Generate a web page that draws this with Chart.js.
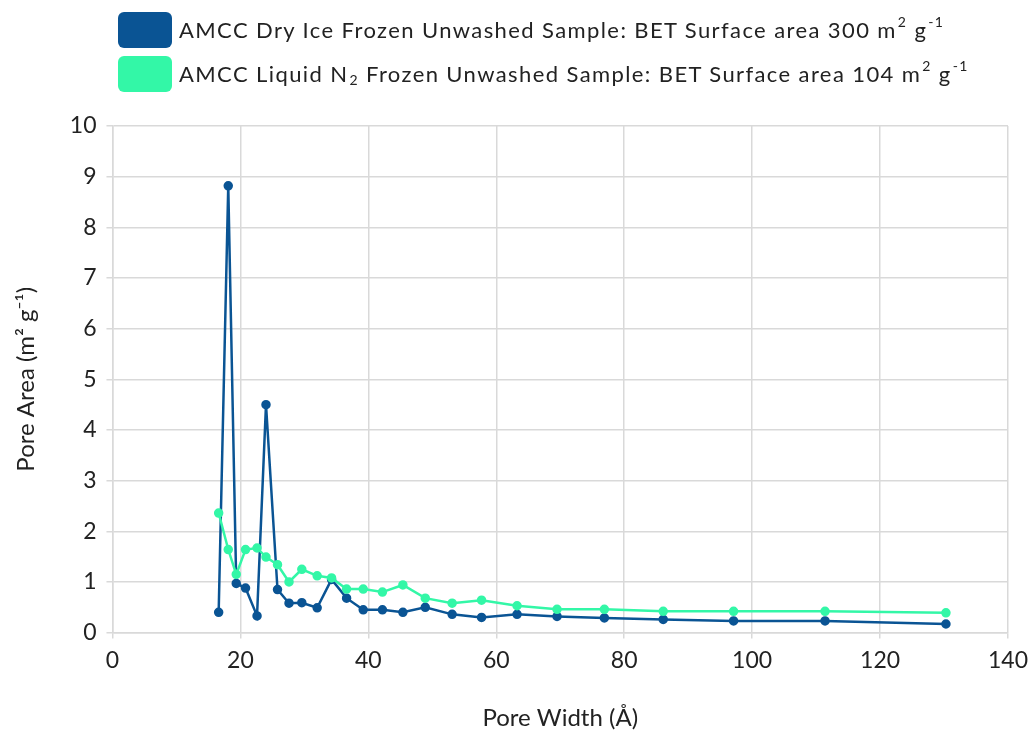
<!DOCTYPE html>
<html>
<head>
<meta charset="utf-8">
<script src="https://cdn.jsdelivr.net/npm/chart.js@4/dist/chart.umd.min.js"></script>
<style>
  html, body { margin: 0; padding: 0; background: #fff; }
  #wrap { position: relative; width: 1036px; height: 733px; font-family: Lato, "Noto Sans", sans-serif; color: #222; }
  #legend { position: absolute; left: 118px; top: 12px; }
  .item { display: flex; align-items: center; height: 36px; margin-bottom: 8px; font-size: 22px; letter-spacing: 1.4px; line-height: 1; }
  .box { width: 54px; height: 36px; border-radius: 6px; margin-right: 7px; }
  sup { font-size: 14px; position: relative; top: -8px; margin-left: 1px; }
  sub { font-size: 14px; position: relative; top: 6px; margin-left: 1px; }
  canvas { position: absolute; left: 0; top: 0; }
</style>
</head>
<body>
<div id="wrap">
  <canvas id="chart" width="1036" height="733"></canvas>
  <div id="legend">
    <div class="item"><div class="box" style="background:#0a5494"></div>AMCC Dry Ice Frozen Unwashed Sample: BET Surface area 300 m<sup>2</sup>&nbsp;g<sup>-1</sup></div>
    <div class="item"><div class="box" style="background:#33f7a7"></div>AMCC Liquid N<sub>2</sub>&nbsp;Frozen Unwashed Sample: BET Surface area 104 m<sup>2</sup>&nbsp;g<sup>-1</sup></div>
  </div>
</div>
<script>
// pore width (Å)
const poreWidth = [16.6, 18.1, 19.35, 20.8, 22.6, 24.0, 25.8, 27.6, 29.6, 32.0, 34.25, 36.6, 39.2, 42.2, 45.4, 48.9, 53.1, 57.7, 63.25, 69.5, 76.9, 86.1, 97.1, 111.4, 130.3]
// pore area (m2/g)
const dryIce = [0.40, 8.82, 0.97, 0.88, 0.33, 4.50, 0.85, 0.58, 0.59, 0.49, 1.05, 0.68, 0.45, 0.45, 0.40, 0.50, 0.36, 0.30, 0.36, 0.32, 0.29, 0.26, 0.23, 0.23, 0.17]
const liquidN2 = [2.36, 1.64, 1.15, 1.64, 1.67, 1.49, 1.34, 1.00, 1.25, 1.12, 1.08, 0.86, 0.86, 0.80, 0.94, 0.68, 0.58, 0.64, 0.53, 0.46, 0.46, 0.42, 0.42, 0.42, 0.39]

const toXY = (ys) => poreWidth.map((x, i) => ({ x: x, y: ys[i] }))

const ctx = document.getElementById('chart').getContext('2d')

new Chart(ctx, {
  type: 'scatter',
  data: {
    datasets: [
      {
        label: 'AMCC Liquid N2 Frozen Unwashed Sample',
        data: toXY(liquidN2),
        showLine: true,
        borderColor: '#33f7a7',
        backgroundColor: '#33f7a7',
        borderWidth: 2.5,
        pointRadius: 3.5,
        tension: 0
      },
      {
        label: 'AMCC Dry Ice Frozen Unwashed Sample',
        data: toXY(dryIce),
        showLine: true,
        borderColor: '#0a5494',
        backgroundColor: '#0a5494',
        borderWidth: 2.5,
        pointRadius: 3.5,
        tension: 0
      }
    ]
  },
  options: {
    responsive: false,
    animation: false,
    layout: { padding: { top: 126, right: 26, left: 8, bottom: 0 } },
    plugins: {
      legend: { display: false },
      tooltip: { enabled: false }
    },
    scales: {
      x: {
        type: 'linear',
        min: 0,
        max: 140,
        ticks: { stepSize: 20, color: '#222', font: { family: 'Lato', size: 23 }, padding: 8 },
        grid: { color: '#d9d9d9', lineWidth: 1.5, tickLength: 6 },
        border: { color: '#d9d9d9', width: 1.5 },
        title: { display: true, text: 'Pore Width (Å)', color: '#222', font: { family: 'Lato', size: 24 }, padding: { top: 22, bottom: 0 } }
      },
      y: {
        min: 0,
        max: 10,
        ticks: { stepSize: 1, color: '#222', font: { family: 'Lato', size: 23 }, padding: 10 },
        grid: { color: '#d9d9d9', lineWidth: 1.5, tickLength: 6 },
        border: { color: '#d9d9d9', width: 1.5 },
        title: { display: true, text: 'Pore Area (m² g⁻¹)', color: '#222', font: { family: 'Lato', size: 24 }, padding: { bottom: 19 } }
      }
    }
  }
})
</script>
</body>
</html>
